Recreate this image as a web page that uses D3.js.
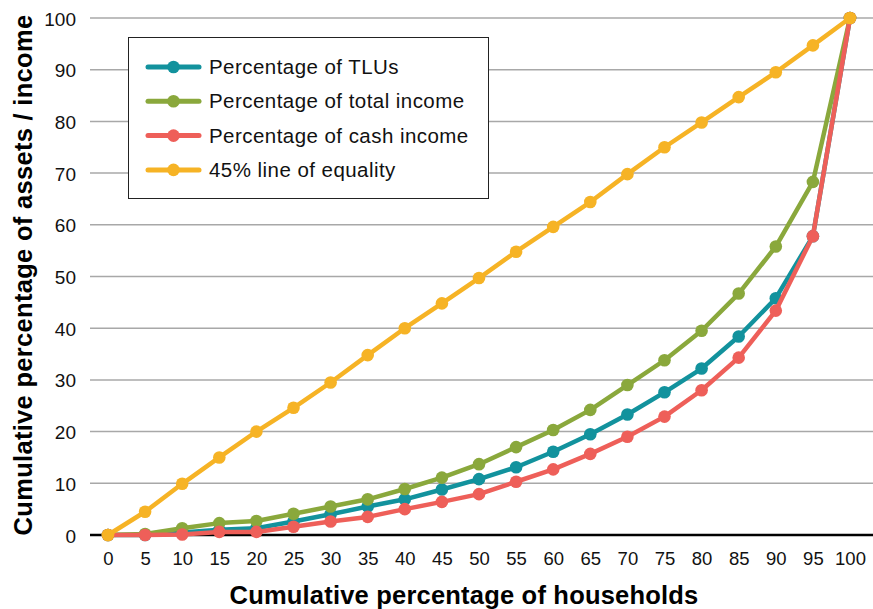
<!DOCTYPE html>
<html>
<head>
<meta charset="utf-8">
<script src="https://cdn.jsdelivr.net/npm/d3@7"></script>
<style>
  body { margin: 0; background: #fff; }
  text { font-family: "Liberation Sans", Arial, sans-serif; }
</style>
</head>
<body>
<svg id="chart" width="873" height="609"></svg>
<script>
// ------ Data
var households = [0, 5, 10, 15, 20, 25, 30, 35, 40, 45, 50, 55, 60, 65, 70, 75, 80, 85, 90, 95, 100];
var tlus        = [0, 0, 0.5, 1.0, 1.3, 2.6, 4.0, 5.5, 6.9, 8.8, 10.8, 13.1, 16.1, 19.5, 23.3, 27.6, 32.2, 38.4, 45.8, 57.8, 100];
var totalIncome = [0, 0.2, 1.3, 2.3, 2.7, 4.1, 5.5, 6.9, 8.9, 11.1, 13.7, 17.0, 20.3, 24.2, 29.0, 33.8, 39.5, 46.7, 55.8, 68.3, 100];
var cashIncome  = [0, 0, 0.1, 0.6, 0.6, 1.6, 2.6, 3.5, 5.0, 6.4, 7.9, 10.3, 12.7, 15.7, 19.0, 22.9, 28.0, 34.3, 43.4, 57.8, 100];
var equality    = [0, 4.5, 9.9, 15.0, 20.0, 24.6, 29.5, 34.8, 40.0, 44.8, 49.7, 54.8, 59.6, 64.4, 69.8, 75.0, 79.8, 84.7, 89.5, 94.7, 100];
var yTicks = [0, 10, 20, 30, 40, 50, 60, 70, 80, 90, 100];

var seriesNames = ["Percentage of TLUs", "Percentage of total income", "Percentage of cash income", "45% line of equality"];
var seriesColors = ["#12929d", "#8aa83c", "#ee5f59", "#f6b325"];
var seriesValues = [tlus, totalIncome, cashIncome, equality];

// Sizes
var svg = d3.select("#chart");
var xScale = d3.scaleLinear().domain([0, 100]).range([108, 850]);
var yScale = d3.scaleLinear().domain([0, 100]).range([535, 18]);

// ------ Gridlines
svg.append("g").selectAll("line")
  .data(yTicks.filter(d => d > 0))
  .enter().append("line")
    .attr("x1", 90).attr("x2", 873)
    .attr("y1", d => yScale(d)).attr("y2", d => yScale(d))
    .style("stroke", "#a8a8a8")
    .style("stroke-width", 1.5);

// baseline
svg.append("line")
  .attr("x1", 90).attr("x2", 873)
  .attr("y1", yScale(0)).attr("y2", yScale(0))
  .style("stroke", "#000")
  .style("stroke-width", 2.5);

// ------ Axes
var yAxis = d3.axisLeft(yScale).tickValues(yTicks).tickSize(0).tickPadding(0);
svg.append("g")
  .attr("transform", "translate(76,1)")
  .call(yAxis)
  .call(g => g.select(".domain").remove())
  .selectAll("text")
    .style("font-size", "19px")
    .style("fill", "#111")
    .style("font-family", "'Liberation Sans', Arial, sans-serif");

var xAxis = d3.axisBottom(xScale).tickValues(households).tickSize(0).tickPadding(0);
svg.append("g")
  .attr("transform", "translate(0,552)")
  .call(xAxis)
  .call(g => g.select(".domain").remove())
  .selectAll("text")
    .style("font-size", "18.5px")
    .style("fill", "#111")
    .style("font-family", "'Liberation Sans', Arial, sans-serif");

// axis titles
svg.append("text")
  .attr("x", 464).attr("y", 604)
  .style("text-anchor", "middle")
  .style("font-size", "25.5px")
  .style("font-weight", "bold")
  .style("letter-spacing", "0.2px")
  .text("Cumulative percentage of households");

svg.append("text")
  .attr("transform", "translate(32,275) rotate(-90)")
  .style("text-anchor", "middle")
  .style("font-size", "25.5px")
  .style("font-weight", "bold")
  .style("letter-spacing", "0.3px")
  .text("Cumulative percentage of assets / income");

// ------ Lines and dots
var line = d3.line()
  .x((d, i) => xScale(households[i]))
  .y(d => yScale(d));

seriesValues.forEach(function(vals, s) {
  var g = svg.append("g");
  g.append("path")
    .datum(vals)
    .attr("d", line)
    .style("fill", "none")
    .style("stroke", seriesColors[s])
    .style("stroke-width", 4.5)
    .style("stroke-linejoin", "round");
  g.selectAll("circle")
    .data(vals)
    .enter().append("circle")
      .attr("cx", (d, i) => xScale(households[i]))
      .attr("cy", d => yScale(d))
      .attr("r", 6.3)
      .style("fill", seriesColors[s]);
});

// ------ Legend
var legend = svg.append("g").attr("transform", "translate(128,37)");
legend.append("rect")
  .attr("x", 0.5).attr("y", 0.5)
  .attr("width", 360).attr("height", 161)
  .style("fill", "#fff")
  .style("stroke", "#222")
  .style("stroke-width", 1);

var items = legend.selectAll(".legend")
  .data(seriesNames)
  .enter().append("g")
    .attr("class", "legend")
    .attr("transform", (d, i) => "translate(0," + (30 + i * 34.3) + ")");
items.append("line")
  .attr("x1", 20).attr("x2", 71)
  .style("stroke", (d, i) => seriesColors[i])
  .style("stroke-width", 5)
  .style("stroke-linecap", "round");
items.append("circle")
  .attr("cx", 45.5).attr("r", 6.3)
  .style("fill", (d, i) => seriesColors[i]);
items.append("text")
  .attr("x", 81).attr("y", 7)
  .style("font-size", "20.5px")
  .style("letter-spacing", "0.45px")
  .style("fill", "#111")
  .text(d => d);
</script>
</body>
</html>
